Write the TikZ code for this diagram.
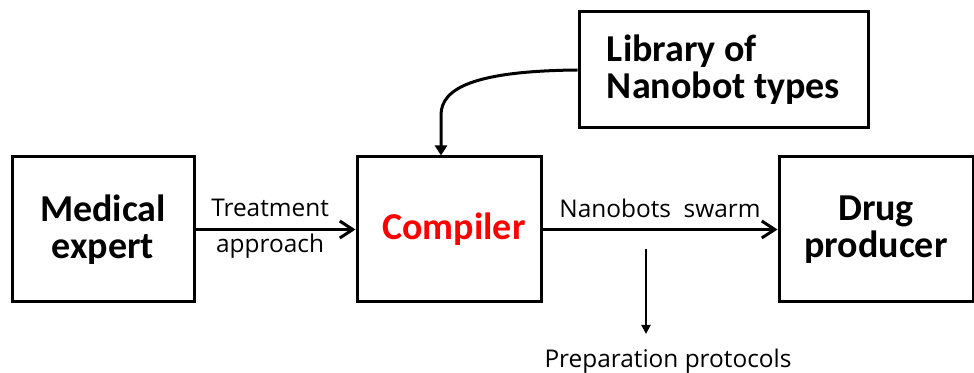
\documentclass[tikz,border=0pt]{standalone}
\usepackage{fontspec}
\setmainfont{Carlito}
\newfontfamily\labelfont{Open Sans}
\usetikzlibrary{arrows.meta}
\tikzset{
  block/.style={draw, line width=1.5pt, inner sep=0pt, align=center,
    font=\fontsize{19pt}{18.5pt}\selectfont\bfseries},
  flow/.style={line width=1.5pt, -{Straight Barb[length=6.5pt,width=8.5pt,line width=1.5pt]}},
  feed/.style={line width=1.5pt, -{Triangle[length=5pt,width=6pt]}},
  thinflow/.style={line width=1pt, -{Triangle[length=4.5pt,width=4.5pt]}},
  lbl/.style={font=\labelfont\fontsize{12.2pt}{14pt}\selectfont, inner sep=0pt, anchor=base}
}
\begin{document}
\begin{tikzpicture}[x=0.5pt,y=-0.5pt]
\useasboundingbox (0,0) rectangle (974,373);
\begin{scope}
\clip (0,0) rectangle (974,373);
\node[block, minimum width=91pt, minimum height=72.5pt] (med) at (103,229.5) {Medical\\expert};
\node[block, minimum width=92pt, minimum height=72.5pt, text=red] (comp) at (449,229.5) {\hspace*{5pt}Compiler};
\node[block, minimum width=97pt, minimum height=72.5pt] (drug) at (876,229.5) {Drug\\producer};
\node[block, minimum width=144.5pt, minimum height=58pt, align=left] (lib) at (723.5,70) {Library of\\Nanobot types};
\end{scope}

\coordinate (bend) at (441,115);
\coordinate (ptop) at (646,249);
\coordinate (pbot) at (646,334);

\draw[flow] (med.east) -- (comp.west)
  node[lbl, pos=0.466, yshift=6.5pt] (t1) {Treatment}
  node[lbl, pos=0.466, yshift=-11.5pt] (t2) {approach};
\draw[flow] (comp.east) -- (drug.west)
  node[lbl, midway, yshift=6pt] (t3) {Nanobots\ \ swarm};
\draw[feed] (lib.west) .. controls (475,71) and (441,88) .. (bend) -- ([xshift=-4pt]comp.north);
\draw[thinflow] (ptop) -- (pbot);
\node[lbl] (prep) at (668,368) {Preparation protocols};
\end{tikzpicture}
\end{document}
